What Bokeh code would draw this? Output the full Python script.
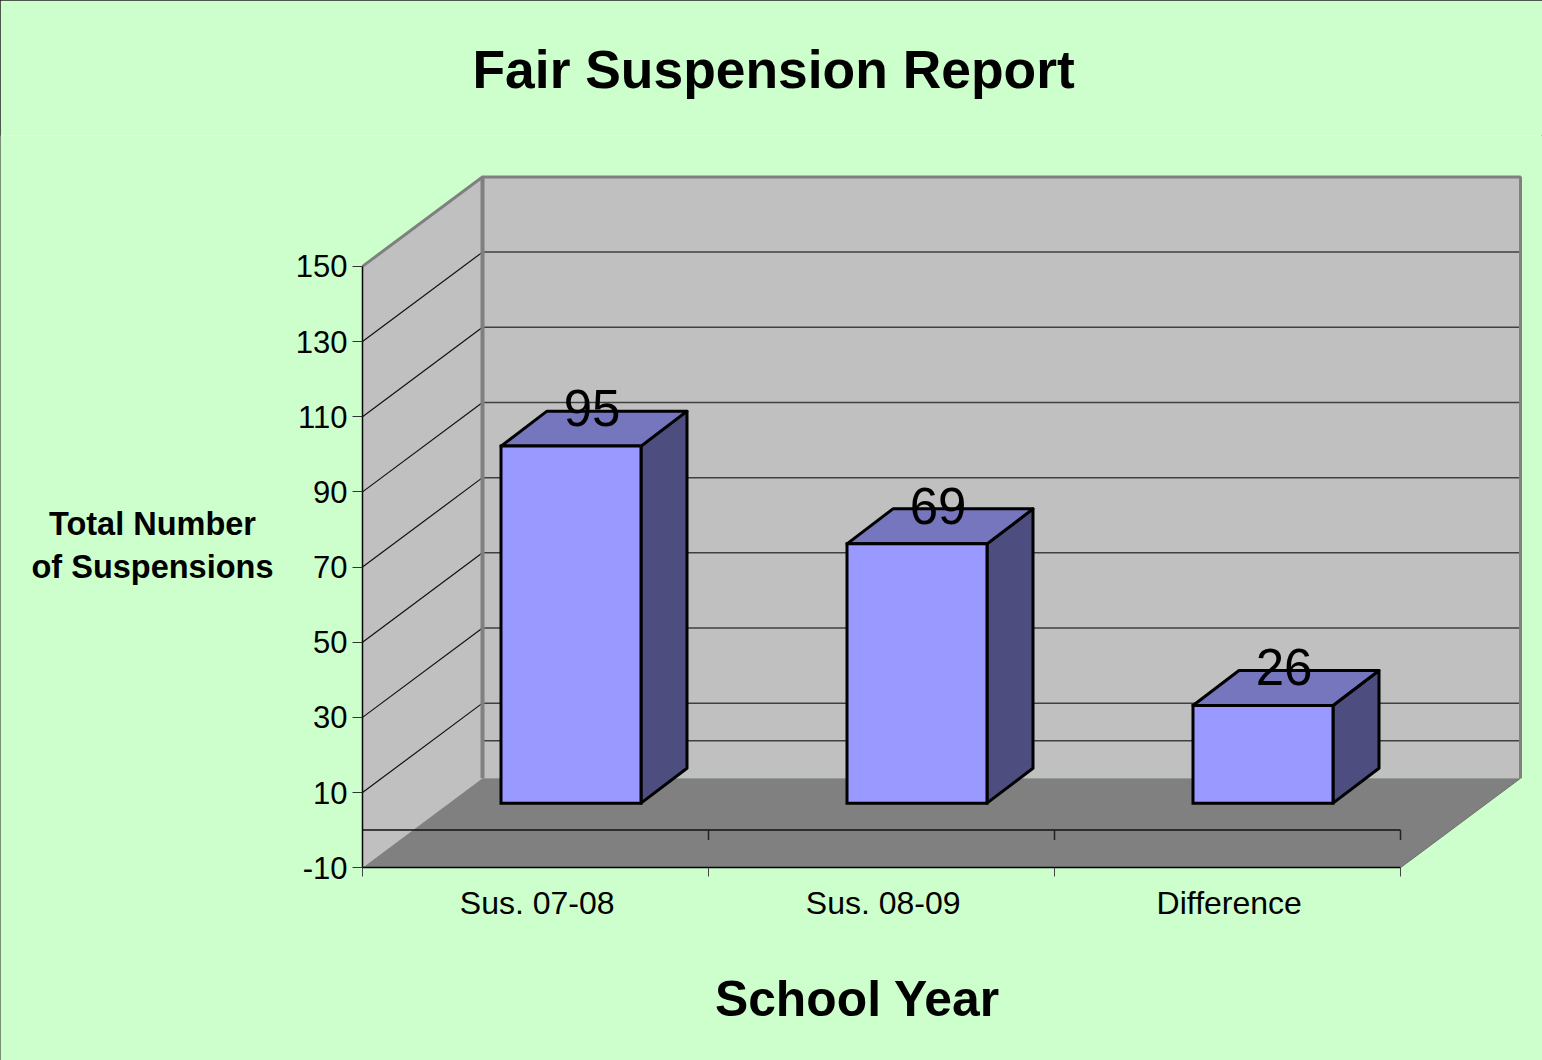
from bokeh.plotting import figure
from bokeh.models import Range1d, FixedTicker, Label, Title
from bokeh.embed import file_html
from bokeh.resources import INLINE
from bokeh.core.properties import value

title_text = "Fair Suspension Report"
x_title = "School Year"
y_title = "Total Number\nof Suspensions"
categories = ["Sus. 07-08", "Sus. 08-09", "Difference"]
suspensions = [95, 69, 26]
y_ticks = [-10, 10, 30, 50, 70, 90, 110, 130, 150]

# scale of the drawing: pixels per data unit, and the oblique depth of the scene
PX_X = 346.0
PX_Y = 3.7625
WALL_DX = 120 / PX_X
WALL_DY = 89.5 / PX_Y
BAR_SHIFT_X = 35.5 / PX_X
BAR_SHIFT_Y = 27 / PX_Y
BAR_DX = 46 / PX_X
BAR_DY = 35 / PX_Y
BAR_W = 140 / PX_X
LABEL_DX = 21 / PX_X
LABEL_DY = 38 / PX_Y
FRAME_TOP = 134
AXIS_X = 362
AXIS_Y = 867
W, H = 1542, 1060

n = len(categories)
ymin, ymax = y_ticks[0], y_ticks[-1]

p = figure(
    width=W, height=H, output_backend="svg", toolbar_location=None,
    x_range=Range1d(-AXIS_X / PX_X, (W - AXIS_X) / PX_X),
    y_range=Range1d(ymin - (H - AXIS_Y) / PX_Y, ymin + (AXIS_Y - FRAME_TOP) / PX_Y),
    min_border_left=0, min_border_right=0, min_border_top=0, min_border_bottom=0,
    background_fill_color="#CCFFCC", border_fill_color="#CCFFCC",
    outline_line_color=None, x_axis_type="linear",
)
p.styles = {"outline": "1px solid #222222", "outline-offset": "-1px"}
p.grid.visible = False

p.title = Title(text=title_text, align="left", offset=472, standoff=74,
                text_font="Liberation Sans", text_font_size="53.4px",
                text_font_style="bold", text_color="black")

# axes
xa = p.xaxis[0]
xa.fixed_location = ymin
xa.ticker = FixedTicker(ticks=[i + 0.505 for i in range(n)], minor_ticks=list(range(n + 1)))
xa.major_label_overrides = {i + 0.505: c for i, c in enumerate(categories)}
xa.bounds = (0, n)
xa.major_tick_line_color = None
xa.major_tick_in = 0
xa.major_tick_out = 0
xa.minor_tick_in = 0
xa.minor_tick_out = 9
xa.minor_tick_line_color = "#444444"
xa.axis_line_color = "black"
xa.axis_line_width = 1.5
xa.major_label_standoff = 8
xa.major_label_text_font = "Liberation Sans"
xa.major_label_text_font_size = "32px"
xa.major_label_text_color = "black"

ya = p.yaxis[0]
ya.fixed_location = 0
ya.ticker = FixedTicker(ticks=y_ticks, minor_ticks=[])
ya.bounds = (ymin, ymax)
ya.major_label_overrides = {-10: "-10"}
ya.major_tick_out = 10
ya.major_tick_in = 0
ya.major_tick_line_color = "#333333"
ya.axis_line_color = "black"
ya.axis_line_width = 1.5
ya.major_label_standoff = 5
ya.major_label_text_font = "Liberation Sans"
ya.major_label_text_font_size = "31px"
ya.major_label_text_color = "black"

# walls
p.patch([0, WALL_DX, WALL_DX, 0], [ymin, ymin + WALL_DY, ymax + WALL_DY, ymax],
        fill_color="#C0C0C0", line_color=None)
p.patch([WALL_DX, n + WALL_DX, n + WALL_DX, WALL_DX],
        [ymin + WALL_DY, ymin + WALL_DY, ymax + WALL_DY, ymax + WALL_DY],
        fill_color="#C0C0C0", line_color=None)

# gridlines: on the side wall and on the back wall
grid_ticks = [t for t in y_ticks if ymin < t < ymax]
p.segment([0] * len(grid_ticks), grid_ticks, [WALL_DX] * len(grid_ticks),
          [t + WALL_DY for t in grid_ticks], line_color="#111111", line_width=1.2)
back_ticks = grid_ticks + [0]
p.segment([WALL_DX] * len(back_ticks), [t + WALL_DY for t in back_ticks],
          [n + WALL_DX] * len(back_ticks), [t + WALL_DY for t in back_ticks],
          line_color="#404040", line_width=1.5)

# wall border
p.line([0, WALL_DX, n + WALL_DX, n + WALL_DX], [ymax, ymax + WALL_DY, ymax + WALL_DY, ymin + WALL_DY],
       line_color="#808080", line_width=3)
p.line([WALL_DX, WALL_DX], [ymin + WALL_DY, ymax + WALL_DY], line_color="#808080", line_width=4)

# floor
p.patch([0, n, n + WALL_DX, WALL_DX], [ymin, ymin, ymin + WALL_DY, ymin + WALL_DY],
        fill_color="#808080", line_color=None)
p.line([n, n + WALL_DX], [ymin, ymin + WALL_DY], line_color="#6E6E6E", line_width=1)

# zero line with its tick marks
p.segment([0], [0], [n], [0], line_color="#111111", line_width=1.5)
p.segment(list(range(1, n + 1)), [0] * n, list(range(1, n + 1)), [-10 / PX_Y] * n,
          line_color="#222222", line_width=1.5)

# bars
centers = [i + 0.5 + BAR_SHIFT_X for i in range(n)]
lefts = [c - BAR_W / 2 for c in centers]
rights = [c + BAR_W / 2 for c in centers]
base = BAR_SHIFT_Y
tops = [v + base for v in suspensions]

p.patches([[r, r + BAR_DX, r + BAR_DX, r] for r in rights],
          [[base, base + BAR_DY, t + BAR_DY, t] for t in tops],
          fill_color="#4D4D80", line_color="black", line_width=3, line_join="round")
p.patches([[l, l + BAR_DX, r + BAR_DX, r] for l, r in zip(lefts, rights)],
          [[t, t + BAR_DY, t + BAR_DY, t] for t in tops],
          fill_color="#7676BF", line_color="black", line_width=3, line_join="round")
p.quad(left=lefts, right=rights, bottom=[base] * n, top=tops,
       fill_color="#9999FF", line_color="black", line_width=3, line_join="miter")

# value labels
p.text([c + LABEL_DX for c in centers], [t + LABEL_DY for t in tops],
       text=[str(v) for v in suspensions], text_align="center", text_baseline="alphabetic",
       text_font=value("Liberation Sans"), text_font_size="51px", text_color="black")

# axis titles
p.add_layout(Label(x=857, y=62, x_units="screen", y_units="screen", text=x_title,
                   text_align="center", text_baseline="middle",
                   text_font="Liberation Sans", text_font_size="49.8px", text_font_style="bold",
                   text_color="black"))
p.add_layout(Label(x=152, y=515, x_units="screen", y_units="screen", text=y_title,
                   text_align="center", text_baseline="middle",
                   text_font="Liberation Sans", text_font_size="32.5px", text_font_style="bold",
                   text_color="black"))

open("out.html", "w").write(file_html(p, INLINE))
